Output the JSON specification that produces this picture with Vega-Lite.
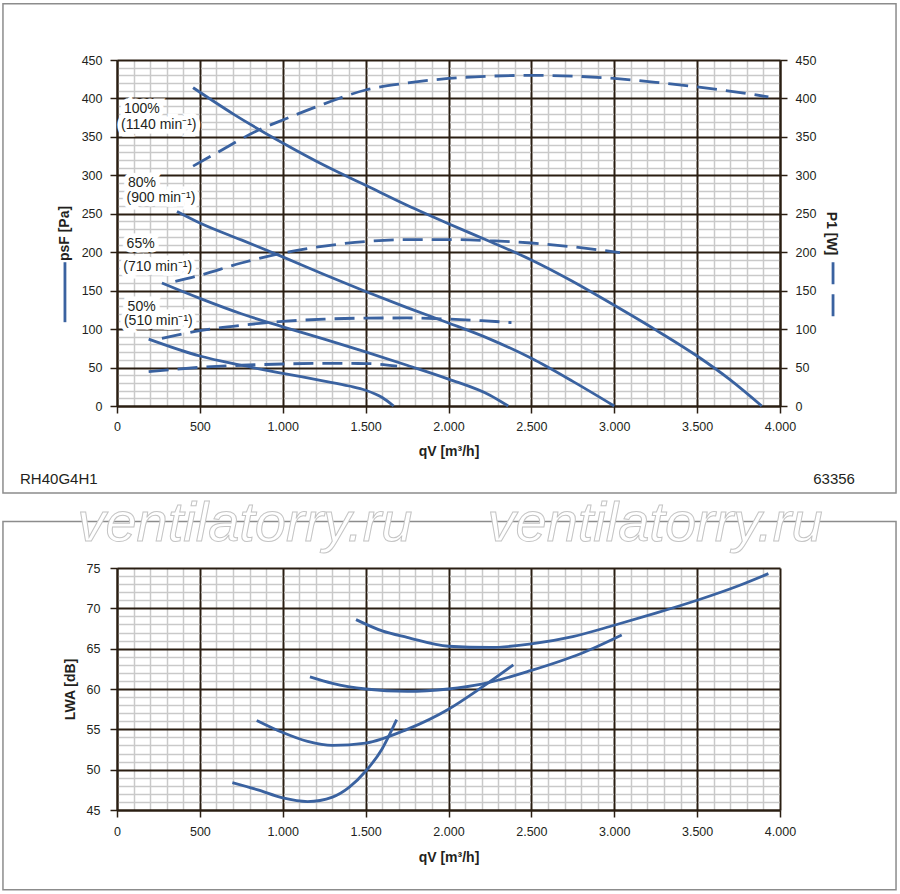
{
  "$schema": "https://vega.github.io/schema/vega-lite/v6.json",
  "background": "white",
  "padding": {"left": 2, "top": 3, "right": 2, "bottom": 4},
  "bounds": "flush",
  "spacing": 162,
  "config": {
    "font": "Liberation Sans",
    "view": {"stroke": null},
    "axis": {
      "labelFont": "Liberation Sans",
      "labelFontSize": 12.5,
      "labelColor": "#231f20",
      "titleFont": "Liberation Sans",
      "titleFontSize": 14,
      "titleFontWeight": "bold",
      "titleColor": "#231f20",
      "domainColor": "#2a1e12",
      "domainWidth": 2,
      "tickColor": "#2a1e12",
      "tickWidth": 1.5,
      "tickSize": 7,
      "gridOpacity": 1,
      "labelFlush": false,
      "labelOverlap": false
    }
  },
  "datasets": {
    "psf": [
      {"s": "100%", "q": 459, "v": 414}, {"s": "100%", "q": 700, "v": 380}, {"s": "100%", "q": 1000, "v": 342},
      {"s": "100%", "q": 1250, "v": 313}, {"s": "100%", "q": 1500, "v": 287}, {"s": "100%", "q": 1750, "v": 261},
      {"s": "100%", "q": 2000, "v": 237}, {"s": "100%", "q": 2250, "v": 214}, {"s": "100%", "q": 2500, "v": 190},
      {"s": "100%", "q": 2750, "v": 162}, {"s": "100%", "q": 3000, "v": 131}, {"s": "100%", "q": 3250, "v": 99},
      {"s": "100%", "q": 3500, "v": 65}, {"s": "100%", "q": 3700, "v": 34}, {"s": "100%", "q": 3890, "v": 0},
      {"s": "80%", "q": 362, "v": 253}, {"s": "80%", "q": 500, "v": 238}, {"s": "80%", "q": 750, "v": 216},
      {"s": "80%", "q": 1000, "v": 194}, {"s": "80%", "q": 1250, "v": 171}, {"s": "80%", "q": 1500, "v": 149},
      {"s": "80%", "q": 1750, "v": 128}, {"s": "80%", "q": 2000, "v": 108}, {"s": "80%", "q": 2250, "v": 87},
      {"s": "80%", "q": 2500, "v": 62}, {"s": "80%", "q": 2750, "v": 32}, {"s": "80%", "q": 3000, "v": 0},
      {"s": "65%", "q": 271, "v": 160}, {"s": "65%", "q": 500, "v": 140}, {"s": "65%", "q": 750, "v": 120},
      {"s": "65%", "q": 1000, "v": 103}, {"s": "65%", "q": 1250, "v": 87}, {"s": "65%", "q": 1500, "v": 70.5},
      {"s": "65%", "q": 1750, "v": 53}, {"s": "65%", "q": 2000, "v": 35}, {"s": "65%", "q": 2250, "v": 14},
      {"s": "65%", "q": 2360, "v": 0},
      {"s": "50%", "q": 191, "v": 87}, {"s": "50%", "q": 500, "v": 65}, {"s": "50%", "q": 750, "v": 53},
      {"s": "50%", "q": 1000, "v": 42.5}, {"s": "50%", "q": 1250, "v": 32.5}, {"s": "50%", "q": 1400, "v": 26},
      {"s": "50%", "q": 1500, "v": 20.5}, {"s": "50%", "q": 1600, "v": 11}, {"s": "50%", "q": 1669, "v": 0}
    ],
    "pw": [
      {"s": "100%", "q": 459, "v": 312}, {"s": "100%", "q": 600, "v": 329}, {"s": "100%", "q": 855, "v": 359},
      {"s": "100%", "q": 1000, "v": 372}, {"s": "100%", "q": 1250, "v": 393}, {"s": "100%", "q": 1500, "v": 411},
      {"s": "100%", "q": 1750, "v": 420}, {"s": "100%", "q": 2000, "v": 426}, {"s": "100%", "q": 2250, "v": 429},
      {"s": "100%", "q": 2500, "v": 430}, {"s": "100%", "q": 2750, "v": 429}, {"s": "100%", "q": 3000, "v": 426},
      {"s": "100%", "q": 3250, "v": 421}, {"s": "100%", "q": 3500, "v": 415}, {"s": "100%", "q": 3750, "v": 408},
      {"s": "100%", "q": 3930, "v": 402},
      {"s": "80%", "q": 352, "v": 162}, {"s": "80%", "q": 500, "v": 170}, {"s": "80%", "q": 750, "v": 186},
      {"s": "80%", "q": 1000, "v": 199}, {"s": "80%", "q": 1250, "v": 208}, {"s": "80%", "q": 1500, "v": 214},
      {"s": "80%", "q": 1750, "v": 216.5}, {"s": "80%", "q": 2000, "v": 216.5}, {"s": "80%", "q": 2250, "v": 215},
      {"s": "80%", "q": 2500, "v": 212}, {"s": "80%", "q": 2750, "v": 207}, {"s": "80%", "q": 3035, "v": 199.5},
      {"s": "65%", "q": 271, "v": 88}, {"s": "65%", "q": 500, "v": 98}, {"s": "65%", "q": 750, "v": 105},
      {"s": "65%", "q": 1000, "v": 110}, {"s": "65%", "q": 1250, "v": 113}, {"s": "65%", "q": 1500, "v": 114.3},
      {"s": "65%", "q": 1750, "v": 114.5}, {"s": "65%", "q": 2000, "v": 113}, {"s": "65%", "q": 2200, "v": 111},
      {"s": "65%", "q": 2380, "v": 108.5},
      {"s": "50%", "q": 191, "v": 44.6}, {"s": "50%", "q": 500, "v": 50.3}, {"s": "50%", "q": 750, "v": 53},
      {"s": "50%", "q": 1000, "v": 54.6}, {"s": "50%", "q": 1250, "v": 55.5}, {"s": "50%", "q": 1500, "v": 55.2},
      {"s": "50%", "q": 1690, "v": 52}
    ],
    "lwa": [
      {"s": "100%", "q": 1442, "v": 68.6}, {"s": "100%", "q": 1600, "v": 67.2}, {"s": "100%", "q": 1750, "v": 66.4},
      {"s": "100%", "q": 2000, "v": 65.3}, {"s": "100%", "q": 2250, "v": 65.15}, {"s": "100%", "q": 2500, "v": 65.6},
      {"s": "100%", "q": 2750, "v": 66.5}, {"s": "100%", "q": 3000, "v": 67.9}, {"s": "100%", "q": 3250, "v": 69.4},
      {"s": "100%", "q": 3500, "v": 71.0}, {"s": "100%", "q": 3750, "v": 72.8}, {"s": "100%", "q": 3930, "v": 74.3},
      {"s": "80%", "q": 1164, "v": 61.5}, {"s": "80%", "q": 1300, "v": 60.7}, {"s": "80%", "q": 1500, "v": 60.0},
      {"s": "80%", "q": 1750, "v": 59.7}, {"s": "80%", "q": 2000, "v": 60.0}, {"s": "80%", "q": 2200, "v": 60.6},
      {"s": "80%", "q": 2500, "v": 62.3}, {"s": "80%", "q": 2800, "v": 64.4}, {"s": "80%", "q": 3045, "v": 66.7},
      {"s": "65%", "q": 843, "v": 56.1}, {"s": "65%", "q": 1000, "v": 54.6}, {"s": "65%", "q": 1150, "v": 53.5},
      {"s": "65%", "q": 1300, "v": 53.0}, {"s": "65%", "q": 1500, "v": 53.3}, {"s": "65%", "q": 1750, "v": 55.0},
      {"s": "65%", "q": 2000, "v": 57.5}, {"s": "65%", "q": 2200, "v": 60.2}, {"s": "65%", "q": 2391, "v": 63.0},
      {"s": "50%", "q": 696, "v": 48.4}, {"s": "50%", "q": 850, "v": 47.5}, {"s": "50%", "q": 1000, "v": 46.5},
      {"s": "50%", "q": 1150, "v": 46.05}, {"s": "50%", "q": 1300, "v": 46.6}, {"s": "50%", "q": 1400, "v": 47.8},
      {"s": "50%", "q": 1500, "v": 49.8}, {"s": "50%", "q": 1600, "v": 52.6}, {"s": "50%", "q": 1687, "v": 56.2}
    ],
    "labels": [
      {"t": "100%", "q": 42, "v": 386}, {"t": "(1140 min⁻¹)", "q": 24, "v": 365},
      {"t": "80%", "q": 66, "v": 290}, {"t": "(900 min⁻¹)", "q": 58, "v": 270},
      {"t": "65%", "q": 58, "v": 211}, {"t": "(710 min⁻¹)", "q": 38, "v": 181},
      {"t": "50%", "q": 64, "v": 129}, {"t": "(510 min⁻¹)", "q": 42, "v": 110}
    ],
    "one": [{}]
  },
  "vconcat": [
    {
      "width": 663,
      "height": 346,
      "resolve": {"axis": {"y": "independent"}},
      "layer": [
        {
          "layer": [
            {
              "data": {"name": "one"},
              "mark": {"type": "rect", "fill": "transparent", "stroke": "#8c8c8c", "strokeWidth": 1.5, "clip": false},
              "encoding": {
                "x": {"datum": -688, "type": "quantitative", "title": "qV [m³/h]", "scale": {"domain": [0, 4000], "nice": false},
                  "axis": {"values": [0,100,200,300,400,500,600,700,800,900,1000,1100,1200,1300,1400,1500,1600,1700,1800,1900,2000,2100,2200,2300,2400,2500,2600,2700,2800,2900,3000,3100,3200,3300,3400,3500,3600,3700,3800,3900,4000], "labelExpr": "datum.value % 500 === 0 ? replace(format(datum.value, ','), ',', '.') : ''", "labelPadding": 7, "titlePadding": 12, "grid": true, "tickOpacity": {"condition": {"test": "datum.value % 500 === 0", "value": 1}, "value": 0}, "gridColor": {"condition": {"test": "datum.value % 500 === 0", "value": "#2a1e12"}, "value": "#c9c9c9"}, "gridWidth": {"condition": {"test": "datum.value % 500 === 0", "value": 2}, "value": 1.5}}},
                "x2": {"datum": 4700},
                "y": {"datum": 523, "type": "quantitative", "title": "psF [Pa]", "scale": {"domain": [0, 450], "nice": false},
                  "axis": {"values": [0,10,20,30,40,50,60,70,80,90,100,110,120,130,140,150,160,170,180,190,200,210,220,230,240,250,260,270,280,290,300,310,320,330,340,350,360,370,380,390,400,410,420,430,440,450], "labelExpr": "datum.value % 50 === 0 ? datum.value : ''", "labelPadding": 8, "titlePadding": 10, "grid": true, "tickOpacity": {"condition": {"test": "datum.value % 50 === 0", "value": 1}, "value": 0}, "gridColor": {"condition": {"test": "datum.value % 50 === 0", "value": "#2a1e12"}, "value": "#c9c9c9"}, "gridWidth": {"condition": {"test": "datum.value % 50 === 0", "value": 2}, "value": 1.5}, "gridDash": {"condition": {"test": "datum.value % 50 === 0", "value": [1, 0]}, "value": [80.875, 2]}, "gridDashOffset": -1}},
                "y2": {"datum": -113}
              }
            },
            {
              "data": {"name": "labels"},
              "mark": {"type": "text", "align": "left", "baseline": "middle", "fontSize": 14, "color": "white", "stroke": "white", "strokeWidth": 9, "strokeJoin": "miter"},
              "encoding": {
                "x": {"field": "q", "type": "quantitative", "title": "qV [m³/h]", "scale": {"domain": [0, 4000], "nice": false},
                  "axis": {"values": [0,100,200,300,400,500,600,700,800,900,1000,1100,1200,1300,1400,1500,1600,1700,1800,1900,2000,2100,2200,2300,2400,2500,2600,2700,2800,2900,3000,3100,3200,3300,3400,3500,3600,3700,3800,3900,4000], "labelExpr": "datum.value % 500 === 0 ? replace(format(datum.value, ','), ',', '.') : ''", "labelPadding": 7, "titlePadding": 12, "grid": true, "tickOpacity": {"condition": {"test": "datum.value % 500 === 0", "value": 1}, "value": 0}, "gridColor": {"condition": {"test": "datum.value % 500 === 0", "value": "#2a1e12"}, "value": "#c9c9c9"}, "gridWidth": {"condition": {"test": "datum.value % 500 === 0", "value": 2}, "value": 1.5}}},
                "y": {"field": "v", "type": "quantitative", "title": "psF [Pa]", "scale": {"domain": [0, 450], "nice": false},
                  "axis": {"values": [0,10,20,30,40,50,60,70,80,90,100,110,120,130,140,150,160,170,180,190,200,210,220,230,240,250,260,270,280,290,300,310,320,330,340,350,360,370,380,390,400,410,420,430,440,450], "labelExpr": "datum.value % 50 === 0 ? datum.value : ''", "labelPadding": 8, "titlePadding": 10, "grid": true, "tickOpacity": {"condition": {"test": "datum.value % 50 === 0", "value": 1}, "value": 0}, "gridColor": {"condition": {"test": "datum.value % 50 === 0", "value": "#2a1e12"}, "value": "#c9c9c9"}, "gridWidth": {"condition": {"test": "datum.value % 50 === 0", "value": 2}, "value": 1.5}, "gridDash": {"condition": {"test": "datum.value % 50 === 0", "value": [1, 0]}, "value": [80.875, 2]}, "gridDashOffset": -1}},
                "text": {"field": "t"}
              }
            },
            {
              "data": {"name": "labels"},
              "mark": {"type": "text", "align": "left", "baseline": "middle", "fontSize": 14, "color": "#231f20"},
              "encoding": {
                "x": {"field": "q", "type": "quantitative", "title": "qV [m³/h]", "scale": {"domain": [0, 4000], "nice": false},
                  "axis": {"values": [0,100,200,300,400,500,600,700,800,900,1000,1100,1200,1300,1400,1500,1600,1700,1800,1900,2000,2100,2200,2300,2400,2500,2600,2700,2800,2900,3000,3100,3200,3300,3400,3500,3600,3700,3800,3900,4000], "labelExpr": "datum.value % 500 === 0 ? replace(format(datum.value, ','), ',', '.') : ''", "labelPadding": 7, "titlePadding": 12, "grid": true, "tickOpacity": {"condition": {"test": "datum.value % 500 === 0", "value": 1}, "value": 0}, "gridColor": {"condition": {"test": "datum.value % 500 === 0", "value": "#2a1e12"}, "value": "#c9c9c9"}, "gridWidth": {"condition": {"test": "datum.value % 500 === 0", "value": 2}, "value": 1.5}}},
                "y": {"field": "v", "type": "quantitative", "title": "psF [Pa]", "scale": {"domain": [0, 450], "nice": false},
                  "axis": {"values": [0,10,20,30,40,50,60,70,80,90,100,110,120,130,140,150,160,170,180,190,200,210,220,230,240,250,260,270,280,290,300,310,320,330,340,350,360,370,380,390,400,410,420,430,440,450], "labelExpr": "datum.value % 50 === 0 ? datum.value : ''", "labelPadding": 8, "titlePadding": 10, "grid": true, "tickOpacity": {"condition": {"test": "datum.value % 50 === 0", "value": 1}, "value": 0}, "gridColor": {"condition": {"test": "datum.value % 50 === 0", "value": "#2a1e12"}, "value": "#c9c9c9"}, "gridWidth": {"condition": {"test": "datum.value % 50 === 0", "value": 2}, "value": 1.5}, "gridDash": {"condition": {"test": "datum.value % 50 === 0", "value": [1, 0]}, "value": [80.875, 2]}, "gridDashOffset": -1}},
                "text": {"field": "t"}
              }
            },
            {
              "data": {"name": "psf"},
              "mark": {"type": "line", "interpolate": "monotone", "color": "#3a62a0", "strokeWidth": 2.8},
              "encoding": {
                "x": {"field": "q", "type": "quantitative", "title": "qV [m³/h]", "scale": {"domain": [0, 4000], "nice": false},
                  "axis": {"values": [0,100,200,300,400,500,600,700,800,900,1000,1100,1200,1300,1400,1500,1600,1700,1800,1900,2000,2100,2200,2300,2400,2500,2600,2700,2800,2900,3000,3100,3200,3300,3400,3500,3600,3700,3800,3900,4000], "labelExpr": "datum.value % 500 === 0 ? replace(format(datum.value, ','), ',', '.') : ''", "labelPadding": 7, "titlePadding": 12, "grid": true, "tickOpacity": {"condition": {"test": "datum.value % 500 === 0", "value": 1}, "value": 0}, "gridColor": {"condition": {"test": "datum.value % 500 === 0", "value": "#2a1e12"}, "value": "#c9c9c9"}, "gridWidth": {"condition": {"test": "datum.value % 500 === 0", "value": 2}, "value": 1.5}}},
                "y": {"field": "v", "type": "quantitative", "title": "psF [Pa]", "scale": {"domain": [0, 450], "nice": false},
                  "axis": {"values": [0,10,20,30,40,50,60,70,80,90,100,110,120,130,140,150,160,170,180,190,200,210,220,230,240,250,260,270,280,290,300,310,320,330,340,350,360,370,380,390,400,410,420,430,440,450], "labelExpr": "datum.value % 50 === 0 ? datum.value : ''", "labelPadding": 8, "titlePadding": 10, "grid": true, "tickOpacity": {"condition": {"test": "datum.value % 50 === 0", "value": 1}, "value": 0}, "gridColor": {"condition": {"test": "datum.value % 50 === 0", "value": "#2a1e12"}, "value": "#c9c9c9"}, "gridWidth": {"condition": {"test": "datum.value % 50 === 0", "value": 2}, "value": 1.5}, "gridDash": {"condition": {"test": "datum.value % 50 === 0", "value": [1, 0]}, "value": [80.875, 2]}, "gridDashOffset": -1}},
                "detail": {"field": "s"}
              }
            },
            {
              "data": {"name": "one"},
              "mark": {"type": "rule", "color": "#3a62a0", "strokeWidth": 2.8, "clip": false},
              "encoding": {
                "x": {"datum": -314, "type": "quantitative", "title": "qV [m³/h]", "scale": {"domain": [0, 4000], "nice": false},
                  "axis": {"values": [0,100,200,300,400,500,600,700,800,900,1000,1100,1200,1300,1400,1500,1600,1700,1800,1900,2000,2100,2200,2300,2400,2500,2600,2700,2800,2900,3000,3100,3200,3300,3400,3500,3600,3700,3800,3900,4000], "labelExpr": "datum.value % 500 === 0 ? replace(format(datum.value, ','), ',', '.') : ''", "labelPadding": 7, "titlePadding": 12, "grid": true, "tickOpacity": {"condition": {"test": "datum.value % 500 === 0", "value": 1}, "value": 0}, "gridColor": {"condition": {"test": "datum.value % 500 === 0", "value": "#2a1e12"}, "value": "#c9c9c9"}, "gridWidth": {"condition": {"test": "datum.value % 500 === 0", "value": 2}, "value": 1.5}}},
                "y": {"datum": 187, "type": "quantitative", "title": "psF [Pa]", "scale": {"domain": [0, 450], "nice": false},
                  "axis": {"values": [0,10,20,30,40,50,60,70,80,90,100,110,120,130,140,150,160,170,180,190,200,210,220,230,240,250,260,270,280,290,300,310,320,330,340,350,360,370,380,390,400,410,420,430,440,450], "labelExpr": "datum.value % 50 === 0 ? datum.value : ''", "labelPadding": 8, "titlePadding": 10, "grid": true, "tickOpacity": {"condition": {"test": "datum.value % 50 === 0", "value": 1}, "value": 0}, "gridColor": {"condition": {"test": "datum.value % 50 === 0", "value": "#2a1e12"}, "value": "#c9c9c9"}, "gridWidth": {"condition": {"test": "datum.value % 50 === 0", "value": 2}, "value": 1.5}, "gridDash": {"condition": {"test": "datum.value % 50 === 0", "value": [1, 0]}, "value": [80.875, 2]}, "gridDashOffset": -1}},
                "y2": {"datum": 109}
              }
            },
            {
              "data": {"name": "one"},
              "mark": {"type": "rule", "color": "#3a62a0", "strokeWidth": 2.8, "strokeDash": [22, 10], "clip": false},
              "encoding": {
                "x": {"datum": 4320, "type": "quantitative", "title": "qV [m³/h]", "scale": {"domain": [0, 4000], "nice": false},
                  "axis": {"values": [0,100,200,300,400,500,600,700,800,900,1000,1100,1200,1300,1400,1500,1600,1700,1800,1900,2000,2100,2200,2300,2400,2500,2600,2700,2800,2900,3000,3100,3200,3300,3400,3500,3600,3700,3800,3900,4000], "labelExpr": "datum.value % 500 === 0 ? replace(format(datum.value, ','), ',', '.') : ''", "labelPadding": 7, "titlePadding": 12, "grid": true, "tickOpacity": {"condition": {"test": "datum.value % 500 === 0", "value": 1}, "value": 0}, "gridColor": {"condition": {"test": "datum.value % 500 === 0", "value": "#2a1e12"}, "value": "#c9c9c9"}, "gridWidth": {"condition": {"test": "datum.value % 500 === 0", "value": 2}, "value": 1.5}}},
                "y": {"datum": 187, "type": "quantitative", "title": "psF [Pa]", "scale": {"domain": [0, 450], "nice": false},
                  "axis": {"values": [0,10,20,30,40,50,60,70,80,90,100,110,120,130,140,150,160,170,180,190,200,210,220,230,240,250,260,270,280,290,300,310,320,330,340,350,360,370,380,390,400,410,420,430,440,450], "labelExpr": "datum.value % 50 === 0 ? datum.value : ''", "labelPadding": 8, "titlePadding": 10, "grid": true, "tickOpacity": {"condition": {"test": "datum.value % 50 === 0", "value": 1}, "value": 0}, "gridColor": {"condition": {"test": "datum.value % 50 === 0", "value": "#2a1e12"}, "value": "#c9c9c9"}, "gridWidth": {"condition": {"test": "datum.value % 50 === 0", "value": 2}, "value": 1.5}, "gridDash": {"condition": {"test": "datum.value % 50 === 0", "value": [1, 0]}, "value": [80.875, 2]}, "gridDashOffset": -1}},
                "y2": {"datum": 105}
              }
            },
            {
              "data": {"name": "one"},
              "mark": {"type": "text", "align": "left", "baseline": "middle", "fontSize": 15, "color": "#231f20", "clip": false},
              "encoding": {
                "x": {"datum": -585, "type": "quantitative", "title": "qV [m³/h]", "scale": {"domain": [0, 4000], "nice": false},
                  "axis": {"values": [0,100,200,300,400,500,600,700,800,900,1000,1100,1200,1300,1400,1500,1600,1700,1800,1900,2000,2100,2200,2300,2400,2500,2600,2700,2800,2900,3000,3100,3200,3300,3400,3500,3600,3700,3800,3900,4000], "labelExpr": "datum.value % 500 === 0 ? replace(format(datum.value, ','), ',', '.') : ''", "labelPadding": 7, "titlePadding": 12, "grid": true, "tickOpacity": {"condition": {"test": "datum.value % 500 === 0", "value": 1}, "value": 0}, "gridColor": {"condition": {"test": "datum.value % 500 === 0", "value": "#2a1e12"}, "value": "#c9c9c9"}, "gridWidth": {"condition": {"test": "datum.value % 500 === 0", "value": 2}, "value": 1.5}}},
                "y": {"datum": -95, "type": "quantitative", "title": "psF [Pa]", "scale": {"domain": [0, 450], "nice": false},
                  "axis": {"values": [0,10,20,30,40,50,60,70,80,90,100,110,120,130,140,150,160,170,180,190,200,210,220,230,240,250,260,270,280,290,300,310,320,330,340,350,360,370,380,390,400,410,420,430,440,450], "labelExpr": "datum.value % 50 === 0 ? datum.value : ''", "labelPadding": 8, "titlePadding": 10, "grid": true, "tickOpacity": {"condition": {"test": "datum.value % 50 === 0", "value": 1}, "value": 0}, "gridColor": {"condition": {"test": "datum.value % 50 === 0", "value": "#2a1e12"}, "value": "#c9c9c9"}, "gridWidth": {"condition": {"test": "datum.value % 50 === 0", "value": 2}, "value": 1.5}, "gridDash": {"condition": {"test": "datum.value % 50 === 0", "value": [1, 0]}, "value": [80.875, 2]}, "gridDashOffset": -1}},
                "text": {"value": "RH40G4H1"}
              }
            },
            {
              "data": {"name": "one"},
              "mark": {"type": "text", "align": "right", "baseline": "middle", "fontSize": 15, "color": "#231f20", "clip": false},
              "encoding": {
                "x": {"datum": 4452, "type": "quantitative", "title": "qV [m³/h]", "scale": {"domain": [0, 4000], "nice": false},
                  "axis": {"values": [0,100,200,300,400,500,600,700,800,900,1000,1100,1200,1300,1400,1500,1600,1700,1800,1900,2000,2100,2200,2300,2400,2500,2600,2700,2800,2900,3000,3100,3200,3300,3400,3500,3600,3700,3800,3900,4000], "labelExpr": "datum.value % 500 === 0 ? replace(format(datum.value, ','), ',', '.') : ''", "labelPadding": 7, "titlePadding": 12, "grid": true, "tickOpacity": {"condition": {"test": "datum.value % 500 === 0", "value": 1}, "value": 0}, "gridColor": {"condition": {"test": "datum.value % 500 === 0", "value": "#2a1e12"}, "value": "#c9c9c9"}, "gridWidth": {"condition": {"test": "datum.value % 500 === 0", "value": 2}, "value": 1.5}}},
                "y": {"datum": -95, "type": "quantitative", "title": "psF [Pa]", "scale": {"domain": [0, 450], "nice": false},
                  "axis": {"values": [0,10,20,30,40,50,60,70,80,90,100,110,120,130,140,150,160,170,180,190,200,210,220,230,240,250,260,270,280,290,300,310,320,330,340,350,360,370,380,390,400,410,420,430,440,450], "labelExpr": "datum.value % 50 === 0 ? datum.value : ''", "labelPadding": 8, "titlePadding": 10, "grid": true, "tickOpacity": {"condition": {"test": "datum.value % 50 === 0", "value": 1}, "value": 0}, "gridColor": {"condition": {"test": "datum.value % 50 === 0", "value": "#2a1e12"}, "value": "#c9c9c9"}, "gridWidth": {"condition": {"test": "datum.value % 50 === 0", "value": 2}, "value": 1.5}, "gridDash": {"condition": {"test": "datum.value % 50 === 0", "value": [1, 0]}, "value": [80.875, 2]}, "gridDashOffset": -1}},
                "text": {"value": "63356"}
              }
            }
          ]
        },
        {
          "data": {"name": "pw"},
          "mark": {"type": "line", "interpolate": "monotone", "color": "#3a62a0", "strokeWidth": 2.8, "strokeDash": [20, 9]},
          "encoding": {
            "x": {"field": "q", "type": "quantitative", "title": "qV [m³/h]", "scale": {"domain": [0, 4000], "nice": false},
              "axis": {"values": [0,100,200,300,400,500,600,700,800,900,1000,1100,1200,1300,1400,1500,1600,1700,1800,1900,2000,2100,2200,2300,2400,2500,2600,2700,2800,2900,3000,3100,3200,3300,3400,3500,3600,3700,3800,3900,4000], "labelExpr": "datum.value % 500 === 0 ? replace(format(datum.value, ','), ',', '.') : ''", "labelPadding": 7, "titlePadding": 12, "grid": true, "tickOpacity": {"condition": {"test": "datum.value % 500 === 0", "value": 1}, "value": 0}, "gridColor": {"condition": {"test": "datum.value % 500 === 0", "value": "#2a1e12"}, "value": "#c9c9c9"}, "gridWidth": {"condition": {"test": "datum.value % 500 === 0", "value": 2}, "value": 1.5}}},
            "y": {
              "field": "v", "type": "quantitative", "title": "P1 [W]",
              "scale": {"domain": [0, 450], "nice": false},
              "axis": {"orient": "right", "values": [0,50,100,150,200,250,300,350,400,450], "grid": false, "labelPadding": 8, "titlePadding": 8}
            },
            "detail": {"field": "s"}
          }
        }
      ]
    },
    {
      "width": 663,
      "height": 242,
      "layer": [
        {
          "data": {"name": "one"},
          "mark": {"type": "rect", "fill": "transparent", "stroke": "#8c8c8c", "strokeWidth": 1.5, "clip": false},
          "encoding": {
            "x": {"datum": -688, "type": "quantitative", "title": "qV [m³/h]", "scale": {"domain": [0, 4000], "nice": false},
              "axis": {"values": [0,100,200,300,400,500,600,700,800,900,1000,1100,1200,1300,1400,1500,1600,1700,1800,1900,2000,2100,2200,2300,2400,2500,2600,2700,2800,2900,3000,3100,3200,3300,3400,3500,3600,3700,3800,3900,4000], "labelExpr": "datum.value % 500 === 0 ? replace(format(datum.value, ','), ',', '.') : ''", "labelPadding": 8, "titlePadding": 13, "grid": true, "tickOpacity": {"condition": {"test": "datum.value % 500 === 0", "value": 1}, "value": 0}, "gridColor": {"condition": {"test": "datum.value % 500 === 0", "value": "#2a1e12"}, "value": "#c9c9c9"}, "gridWidth": {"condition": {"test": "datum.value % 500 === 0", "value": 2}, "value": 1.5}}},
            "x2": {"datum": 4700},
            "y": {"datum": 80.75, "type": "quantitative", "title": "LWA [dB]", "scale": {"domain": [45, 75], "nice": false},
              "axis": {"values": [45,46,47,48,49,50,51,52,53,54,55,56,57,58,59,60,61,62,63,64,65,66,67,68,69,70,71,72,73,74,75], "labelExpr": "datum.value % 5 === 0 ? datum.value : ''", "labelPadding": 10, "titlePadding": 9, "grid": true, "tickOpacity": {"condition": {"test": "datum.value % 5 === 0", "value": 1}, "value": 0}, "gridColor": {"condition": {"test": "datum.value % 5 === 0", "value": "#2a1e12"}, "value": "#c9c9c9"}, "gridWidth": {"condition": {"test": "datum.value % 5 === 0", "value": 2}, "value": 1.5}, "gridDash": {"condition": {"test": "datum.value % 5 === 0", "value": [1, 0]}, "value": [80.875, 2]}, "gridDashOffset": -1}},
            "y2": {"datum": 35.1}
          }
        },
        {
          "data": {"name": "lwa"},
          "mark": {"type": "line", "interpolate": "monotone", "color": "#3a62a0", "strokeWidth": 2.8},
          "encoding": {
            "x": {"field": "q", "type": "quantitative", "title": "qV [m³/h]", "scale": {"domain": [0, 4000], "nice": false},
              "axis": {"values": [0,100,200,300,400,500,600,700,800,900,1000,1100,1200,1300,1400,1500,1600,1700,1800,1900,2000,2100,2200,2300,2400,2500,2600,2700,2800,2900,3000,3100,3200,3300,3400,3500,3600,3700,3800,3900,4000], "labelExpr": "datum.value % 500 === 0 ? replace(format(datum.value, ','), ',', '.') : ''", "labelPadding": 8, "titlePadding": 13, "grid": true, "tickOpacity": {"condition": {"test": "datum.value % 500 === 0", "value": 1}, "value": 0}, "gridColor": {"condition": {"test": "datum.value % 500 === 0", "value": "#2a1e12"}, "value": "#c9c9c9"}, "gridWidth": {"condition": {"test": "datum.value % 500 === 0", "value": 2}, "value": 1.5}}},
            "y": {"field": "v", "type": "quantitative", "title": "LWA [dB]", "scale": {"domain": [45, 75], "nice": false},
              "axis": {"values": [45,46,47,48,49,50,51,52,53,54,55,56,57,58,59,60,61,62,63,64,65,66,67,68,69,70,71,72,73,74,75], "labelExpr": "datum.value % 5 === 0 ? datum.value : ''", "labelPadding": 10, "titlePadding": 9, "grid": true, "tickOpacity": {"condition": {"test": "datum.value % 5 === 0", "value": 1}, "value": 0}, "gridColor": {"condition": {"test": "datum.value % 5 === 0", "value": "#2a1e12"}, "value": "#c9c9c9"}, "gridWidth": {"condition": {"test": "datum.value % 5 === 0", "value": 2}, "value": 1.5}, "gridDash": {"condition": {"test": "datum.value % 5 === 0", "value": [1, 0]}, "value": [80.875, 2]}, "gridDashOffset": -1}},
            "detail": {"field": "s"}
          }
        },
        {
          "data": {"values": [{"w": "ventilatorry.ru", "q": 772}, {"w": "ventilatorry.ru", "q": 3246}]},
          "mark": {"type": "text", "align": "center", "baseline": "middle", "fontSize": 56, "fontStyle": "italic", "color": "white", "stroke": "#c4c4c4", "strokeWidth": 1, "clip": false},
          "encoding": {
            "x": {"field": "q", "type": "quantitative", "title": "qV [m³/h]", "scale": {"domain": [0, 4000], "nice": false},
              "axis": {"values": [0,100,200,300,400,500,600,700,800,900,1000,1100,1200,1300,1400,1500,1600,1700,1800,1900,2000,2100,2200,2300,2400,2500,2600,2700,2800,2900,3000,3100,3200,3300,3400,3500,3600,3700,3800,3900,4000], "labelExpr": "datum.value % 500 === 0 ? replace(format(datum.value, ','), ',', '.') : ''", "labelPadding": 8, "titlePadding": 13, "grid": true, "tickOpacity": {"condition": {"test": "datum.value % 500 === 0", "value": 1}, "value": 0}, "gridColor": {"condition": {"test": "datum.value % 500 === 0", "value": "#2a1e12"}, "value": "#c9c9c9"}, "gridWidth": {"condition": {"test": "datum.value % 500 === 0", "value": 2}, "value": 1.5}}},
            "y": {"datum": 80.4, "type": "quantitative", "title": "LWA [dB]", "scale": {"domain": [45, 75], "nice": false},
              "axis": {"values": [45,46,47,48,49,50,51,52,53,54,55,56,57,58,59,60,61,62,63,64,65,66,67,68,69,70,71,72,73,74,75], "labelExpr": "datum.value % 5 === 0 ? datum.value : ''", "labelPadding": 10, "titlePadding": 9, "grid": true, "tickOpacity": {"condition": {"test": "datum.value % 5 === 0", "value": 1}, "value": 0}, "gridColor": {"condition": {"test": "datum.value % 5 === 0", "value": "#2a1e12"}, "value": "#c9c9c9"}, "gridWidth": {"condition": {"test": "datum.value % 5 === 0", "value": 2}, "value": 1.5}, "gridDash": {"condition": {"test": "datum.value % 5 === 0", "value": [1, 0]}, "value": [80.875, 2]}, "gridDashOffset": -1}},
            "text": {"field": "w"}
          }
        }
      ]
    }
  ]
}
